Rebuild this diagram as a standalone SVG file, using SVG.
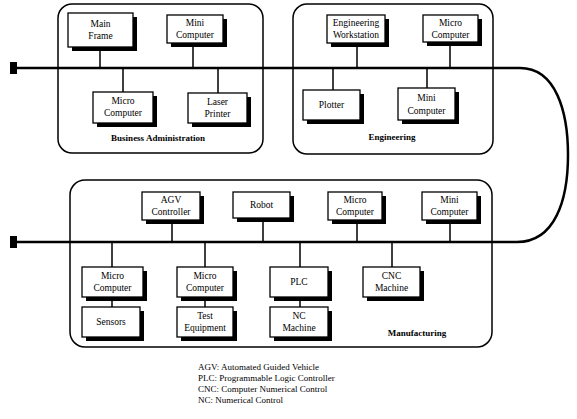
<svg xmlns="http://www.w3.org/2000/svg" width="577" height="419" viewBox="0 0 577 419">
<style>
.grp{fill:#fff;stroke:#000;stroke-width:1.5}
.shadow{fill:#000}
.box{fill:#fff;stroke:#000;stroke-width:1.3}
.t{font-family:"Liberation Serif",serif;font-size:9.5px;text-anchor:middle;fill:#000}
.gl{font-family:"Liberation Serif",serif;font-size:9px;font-weight:bold;text-anchor:middle;fill:#000}
.lg{font-family:"Liberation Serif",serif;font-size:9px;fill:#000}
.bus{stroke:#000;stroke-width:2.5;fill:none}
.c{stroke:#000;stroke-width:1.5;fill:none}
</style>
<rect width="577" height="419" fill="#fff"/>
<g id="group-business">
<rect class="grp" x="58" y="4" width="205" height="149" rx="14"/>
<text class="gl" x="158" y="141">Business Administration</text>
</g>
<g id="group-engineering">
<rect class="grp" x="293" y="4" width="200" height="150" rx="14"/>
<text class="gl" x="392" y="140">Engineering</text>
</g>
<g id="group-manufacturing">
<rect class="grp" x="70" y="180" width="422" height="167" rx="15"/>
<text class="gl" x="417" y="336">Manufacturing</text>
</g>
<g id="connectors">
<rect x="10" y="62" width="7" height="12" fill="#000"/>
<rect x="10" y="236" width="7" height="12" fill="#000"/>
<path class="bus" d="M17 68 H520 C556 68 568 112 568 155 C568 200 555 242 517 242 H17"/>
<path class="c" d="M100 47V68M193 43V68M123 68V92M218 68V93"/>
<path class="c" d="M357 43V68M450 42V68M333 68V90M427 68V88"/>
<path class="c" d="M172 220V242M263 218V242M357 220V242M450 220V242"/>
<path class="c" d="M112 242V267M205 242V267M300 242V267M392 242V267"/>
<path class="c" d="M112 297V307M205 297V307M300 297V307"/>
</g>
<g id="n-mainframe"><rect class="shadow" x="72" y="17" width="65" height="34"/><rect class="box" x="68" y="13" width="65" height="34"/><text class="t" x="100.5" y="27">Main</text><text class="t" x="100.5" y="39">Frame</text></g>
<g id="n-ba-mini"><rect class="shadow" x="171" y="19" width="56" height="28"/><rect class="box" x="167" y="15" width="56" height="28"/><text class="t" x="195" y="26">Mini</text><text class="t" x="195" y="38">Computer</text></g>
<g id="n-ba-micro"><rect class="shadow" x="97" y="96" width="60" height="31"/><rect class="box" x="93" y="92" width="60" height="31"/><text class="t" x="123" y="104">Micro</text><text class="t" x="123" y="116">Computer</text></g>
<g id="n-laser"><rect class="shadow" x="192" y="97" width="59" height="30"/><rect class="box" x="188" y="93" width="59" height="30"/><text class="t" x="217.5" y="105">Laser</text><text class="t" x="217.5" y="117">Printer</text></g>
<g id="n-workstation"><rect class="shadow" x="331" y="19" width="58" height="28"/><rect class="box" x="327" y="15" width="58" height="28"/><text class="t" x="356" y="26">Engineering</text><text class="t" x="356" y="38">Workstation</text></g>
<g id="n-eng-micro"><rect class="shadow" x="427" y="19" width="55" height="27"/><rect class="box" x="423" y="15" width="55" height="27"/><text class="t" x="450.5" y="26">Micro</text><text class="t" x="450.5" y="38">Computer</text></g>
<g id="n-plotter"><rect class="shadow" x="307" y="94" width="57" height="30"/><rect class="box" x="303" y="90" width="57" height="30"/><text class="t" x="331.5" y="108">Plotter</text></g>
<g id="n-eng-mini"><rect class="shadow" x="402" y="92" width="57" height="32"/><rect class="box" x="398" y="88" width="57" height="32"/><text class="t" x="426.5" y="101">Mini</text><text class="t" x="426.5" y="114">Computer</text></g>
<g id="n-agv"><rect class="shadow" x="146" y="196" width="58" height="28"/><rect class="box" x="142" y="192" width="58" height="28"/><text class="t" x="171" y="203">AGV</text><text class="t" x="171" y="215">Controller</text></g>
<g id="n-robot"><rect class="shadow" x="237" y="196" width="57" height="26"/><rect class="box" x="233" y="192" width="57" height="26"/><text class="t" x="261.5" y="208">Robot</text></g>
<g id="n-mfg-micro"><rect class="shadow" x="332" y="196" width="54" height="28"/><rect class="box" x="328" y="192" width="54" height="28"/><text class="t" x="355" y="203">Micro</text><text class="t" x="355" y="215">Computer</text></g>
<g id="n-mfg-mini"><rect class="shadow" x="426" y="196" width="55" height="28"/><rect class="box" x="422" y="192" width="55" height="28"/><text class="t" x="449.5" y="203">Mini</text><text class="t" x="449.5" y="215">Computer</text></g>
<g id="n-micro1"><rect class="shadow" x="86" y="271" width="61" height="30"/><rect class="box" x="82" y="267" width="61" height="30"/><text class="t" x="112.5" y="279">Micro</text><text class="t" x="112.5" y="291">Computer</text></g>
<g id="n-micro2"><rect class="shadow" x="181" y="271" width="56" height="30"/><rect class="box" x="177" y="267" width="56" height="30"/><text class="t" x="205" y="279">Micro</text><text class="t" x="205" y="291">Computer</text></g>
<g id="n-plc"><rect class="shadow" x="274" y="271" width="58" height="30"/><rect class="box" x="270" y="267" width="58" height="30"/><text class="t" x="299" y="285">PLC</text></g>
<g id="n-cnc"><rect class="shadow" x="367" y="271" width="57" height="30"/><rect class="box" x="363" y="267" width="57" height="30"/><text class="t" x="391.5" y="279">CNC</text><text class="t" x="391.5" y="291">Machine</text></g>
<g id="n-sensors"><rect class="shadow" x="86" y="311" width="58" height="30"/><rect class="box" x="82" y="307" width="58" height="30"/><text class="t" x="111" y="325">Sensors</text></g>
<g id="n-test"><rect class="shadow" x="181" y="311" width="56" height="30"/><rect class="box" x="177" y="307" width="56" height="30"/><text class="t" x="205" y="319">Test</text><text class="t" x="205" y="331">Equipment</text></g>
<g id="n-nc"><rect class="shadow" x="274" y="311" width="58" height="30"/><rect class="box" x="270" y="307" width="58" height="30"/><text class="t" x="299" y="319">NC</text><text class="t" x="299" y="331">Machine</text></g>
<g id="legend">
<text class="lg" x="198" y="370">AGV: Automated Guided Vehicle</text>
<text class="lg" x="198" y="381">PLC: Programmable Logic Controller</text>
<text class="lg" x="198" y="392">CNC: Computer Numerical Control</text>
<text class="lg" x="198" y="403">NC: Numerical Control</text>
</g>
</svg>
